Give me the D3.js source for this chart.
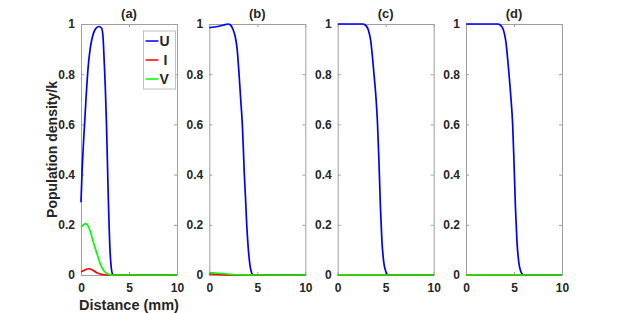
<!DOCTYPE html>
<html>
<head>
<meta charset="utf-8">
<script src="https://cdn.jsdelivr.net/npm/d3@7"></script>
<style>
  body { margin: 0; background: #fff; }
  text { font-family: "Liberation Sans", Arial, sans-serif; font-weight: bold; fill: #262626; }
</style>
</head>
<body>
<div id="chart"></div>
<script>
// chart values
let panelTitles = ["(a)", "(b)", "(c)", "(d)"];
let seriesNames = ["U", "I", "V"];
let seriesColors = ["#0000ff", "#ff0000", "#00ff00"];
let xTicks = [0, 5, 10];
let yTicks = [0, 0.2, 0.4, 0.6, 0.8, 1];

// [distance mm, density/k]
let uA = [[0,0.29],[0.1,0.4],[0.25,0.52],[0.4,0.62],[0.55,0.72],[0.75,0.83],[0.95,0.9],[1.2,0.95],[1.5,0.98],[1.85,0.99],
  [2.15,0.983],[2.29,0.95],[2.43,0.84],[2.53,0.75],[2.64,0.62],[2.72,0.5],[2.85,0.3],[3.02,0.1],[3.15,0.03],[3.3,0.003],[3.45,0],[10,0]];
let iA = [[0,0.013],[0.4,0.02],[0.8,0.025],[1.2,0.02],[1.6,0.01],[2.0,0.004],[2.4,0.001],[2.8,0],[10,0]];
let vA = [[0,0.19],[0.25,0.2],[0.5,0.205],[0.75,0.195],[1.0,0.17],[1.25,0.135],[1.5,0.105],[1.75,0.075],[2.0,0.045],
  [2.25,0.025],[2.5,0.012],[2.75,0.005],[3.0,0.001],[3.25,0],[10,0]];

let uB = [[0,0.985],[0.5,0.988],[1.0,0.991],[1.5,0.996],[1.95,1.0],[2.2,0.996],[2.45,0.98],[2.7,0.95],[2.9,0.9],[3.1,0.8],
  [3.27,0.7],[3.44,0.6],[3.55,0.5],[3.65,0.4],[3.78,0.3],[3.9,0.2],[4.05,0.11],[4.2,0.05],[4.4,0.01],[4.6,0],[10,0]];
let iB = [[0,0.004],[1,0.002],[2,0],[10,0]];
let vB = [[0,0.01],[1,0.007],[2,0.003],[3,0.001],[4,0],[10,0]];

let uC = [[0,1],[2.6,1],[2.9,0.995],[3.19,0.976],[3.43,0.936],[3.78,0.8],[4.0,0.7],[4.15,0.6],[4.3,0.45],[4.45,0.27],
  [4.6,0.14],[4.8,0.05],[5.0,0.015],[5.25,0],[10,0]];
let iC = [[0,0],[10,0]];
let vC = [[0,0],[10,0]];

let uD = [[0,1],[3.3,1],[3.6,0.995],[3.9,0.976],[4.13,0.936],[4.48,0.8],[4.69,0.7],[4.86,0.6],[5.0,0.45],[5.15,0.27],
  [5.3,0.14],[5.5,0.05],[5.7,0.015],[6.0,0],[10,0]];
let iD = [[0,0],[10,0]];
let vD = [[0,0],[10,0]];

let panelData = [[uA, iA, vA], [uB, iB, vB], [uC, iC, vC], [uD, iD, vD]];

let svgWidth = 623;
let svgHeight = 313;
let panelLeft = [81, 209.3, 337.7, 466];
let panelWidth = 96;
let plotTop = 24, plotBottom = 275;

let svg = d3.select("#chart")
  .append("svg")
  .attr("width", svgWidth)
  .attr("height", svgHeight);

let x = d3.scaleLinear().domain([0, 10]).range([0, panelWidth]);
let y = d3.scaleLinear().domain([0, 1]).range([plotBottom - plotTop, 0]);

let line = d3.line()
  .x(d => x(d[0]))
  .y(d => y(d[1]))
  .curve(d3.curveMonotoneX);

panelData.forEach(function(series, p) {
  let g = svg.append("g")
    .attr("transform", `translate(${panelLeft[p]}, ${plotTop})`);

  // box + inward ticks on all four sides
  let axes = [
    d3.axisLeft(y).tickValues(yTicks).tickFormat(d3.format("")),
    d3.axisRight(y).tickValues(yTicks).tickFormat(""),
    d3.axisBottom(x).tickValues(xTicks),
    d3.axisTop(x).tickValues(xTicks).tickFormat("")
  ];
  let shifts = ["0,0", `${panelWidth},0`, `0,${plotBottom - plotTop}`, "0,0"];
  axes.forEach(function(ax, k) {
    let a = g.append("g")
      .attr("transform", `translate(${shifts[k]})`)
      .call(ax.tickSizeInner(-3).tickSizeOuter(0).tickPadding(k == 2 ? 8 : 6));
    a.select(".domain").attr("stroke", "#a0a0a0").attr("stroke-width", 1);
    a.selectAll(".tick line").attr("stroke", "#a0a0a0");
    a.selectAll(".tick text")
      .attr("font-family", "Liberation Sans, Arial, sans-serif")
      .attr("font-weight", "bold")
      .attr("font-size", "12px")
      .attr("fill", "#262626");
  });

  series.forEach(function(pts, s) {
    g.append("path")
      .datum(pts)
      .attr("fill", "none")
      .attr("stroke", seriesColors[s])
      .attr("stroke-width", 1.7)
      .attr("d", line);
  });

  g.append("text")
    .attr("x", panelWidth / 2)
    .attr("y", -6)
    .attr("text-anchor", "middle")
    .attr("font-size", "13px")
    .text(panelTitles[p]);
});

// legend in panel (a)
let legend = svg.append("g")
  .attr("transform", "translate(143.5, 31)");
legend.append("rect")
  .attr("width", 32)
  .attr("height", 58)
  .attr("fill", "#fff")
  .attr("stroke", "#b0b0b0")
  .attr("stroke-width", 0.8);
seriesNames.forEach(function(name, i) {
  let yy = 10 + i * 19;
  legend.append("line")
    .attr("x1", 2).attr("x2", 15)
    .attr("y1", yy).attr("y2", yy)
    .attr("stroke", seriesColors[i])
    .attr("stroke-width", 1.5);
  legend.append("text")
    .attr("x", name == "I" ? 20 : 16)
    .attr("y", yy + 5)
    .attr("font-size", "14px")
    .text(name);
});

// axis labels
svg.append("text")
  .attr("x", panelLeft[0] + panelWidth / 2)
  .attr("y", 310)
  .attr("text-anchor", "middle")
  .attr("font-size", "14.5px")
  .text("Distance (mm)");

svg.append("text")
  .attr("transform", `translate(57, ${(plotTop + plotBottom) / 2}) rotate(-90)`)
  .attr("text-anchor", "middle")
  .attr("font-size", "14px")
  .text("Population density/k");
</script>
</body>
</html>
